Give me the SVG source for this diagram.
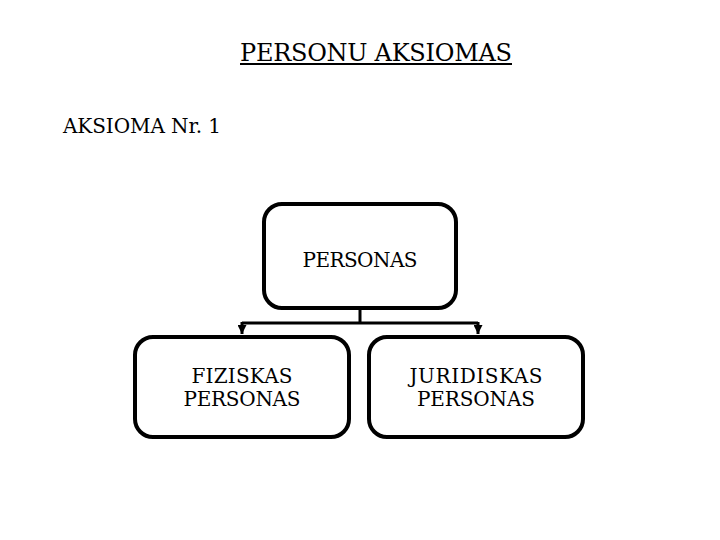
<svg xmlns="http://www.w3.org/2000/svg" width="720" height="540" viewBox="0 0 720 540">
<style>
text{font-family:'DejaVu Serif','Liberation Serif','Times New Roman',serif;fill:#000}
.box{fill:#fff;stroke:#000;stroke-width:4}
.con{fill:none;stroke:#000;stroke-width:3}
.lbl{font-size:20px;text-anchor:middle}
</style>
<defs>
<marker id="arr" viewBox="0 0 10 10" refX="10" refY="5" markerWidth="3" markerHeight="3" orient="auto" markerUnits="strokeWidth">
<path d="M0,0 L10,5 L0,10 Z" fill="#000"/>
</marker>
</defs>
<rect width="720" height="540" fill="#fff"/>
<text x="240" y="61" font-size="24" textLength="272">PERSONU AKSIOMAS</text>
<rect x="240" y="63" width="272" height="2" fill="#000"/>
<text x="63" y="133" font-size="20" textLength="158">AKSIOMA Nr. 1</text>
<g id="connectors">
<path class="con" d="M360 310 V323"/>
<path class="con" d="M242 323 H478"/>
<path class="con" d="M242 322 V334" marker-end="url(#arr)"/>
<path class="con" d="M478 322 V334" marker-end="url(#arr)"/>
</g>
<g id="personas">
<rect class="box" x="264" y="204" width="192" height="104" rx="18"/>
<text class="lbl" x="360" y="267" textLength="115">PERSONAS</text>
</g>
<g id="fiziskas">
<rect class="box" x="135" y="337" width="214" height="100" rx="18"/>
<text class="lbl" x="242" y="383" textLength="101">FIZISKAS</text>
<text class="lbl" x="242" y="406" textLength="117">PERSONAS</text>
</g>
<g id="juridiskas">
<rect class="box" x="369" y="337" width="214" height="100" rx="18"/>
<text class="lbl" x="476" y="383" textLength="133">JURIDISKAS</text>
<text class="lbl" x="476" y="406" textLength="118">PERSONAS</text>
</g>
</svg>
